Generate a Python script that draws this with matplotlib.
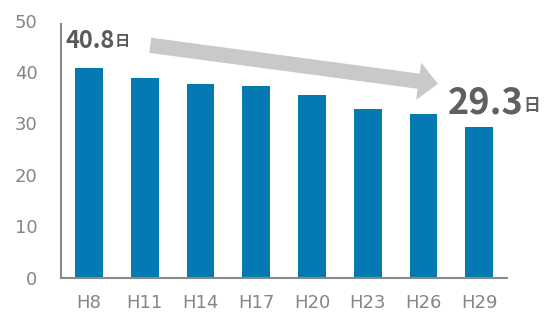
import matplotlib
matplotlib.use('Agg')
import matplotlib.pyplot as plt

# data
years = ['H8', 'H11', 'H14', 'H17', 'H20', 'H23', 'H26', 'H29']
days = [40.8, 38.9, 37.7, 37.3, 35.5, 32.8, 31.9, 29.3]

jp = ['Noto Sans CJK JP', 'DejaVu Sans']

fig = plt.figure(figsize=(5.5, 3.18), dpi=100)
ax = fig.add_axes([0.111, 0.127, 0.811, 0.813])

x = list(range(len(years)))
ax.bar(x, days, width=0.5, color='#0479b2')

ax.set_xlim(-0.5, len(years) - 0.5)
ax.set_ylim(0, 50.3)
ax.set_yticks([0, 10, 20, 30, 40, 50])
ax.set_xticks(x)
ax.set_xticklabels(years)

for side in ['top', 'right']:
    ax.spines[side].set_visible(False)
for side in ['left', 'bottom']:
    ax.spines[side].set_color('#8a8a8a')
    ax.spines[side].set_linewidth(1.5)
ax.spines['left'].set_bounds(0, 49.4)

ax.tick_params(length=0, labelsize=13, labelcolor='#858585')
ax.tick_params(axis='x', pad=12)
ax.tick_params(axis='y', pad=17)

# trend arrow
ax.annotate('', xy=(6.26, 37.7), xytext=(1.1, 45.2),
            arrowprops=dict(arrowstyle='simple,head_width=2.7,head_length=1.4,tail_width=1.1',
                            mutation_scale=10, color='#c9c9c9', ec='none',
                            shrinkA=0, shrinkB=0))

# start / end labels
t1 = ax.text(-0.42, 44.7, f'{days[0]}', fontsize=17, fontweight='bold', family=jp,
             color='#5a5a5a', ha='left', va='baseline')
ax.annotate('日', xy=(1, 0), xycoords=t1, xytext=(0, 2.5), textcoords='offset points',
            fontsize=11, fontweight='bold', family=jp, color='#5a5a5a', ha='left', va='bottom')

t2 = ax.text(6.44, 32.0, f'{days[-1]}', fontsize=26, fontweight='bold', family=jp,
             color='#606060', ha='left', va='baseline')
ax.annotate('日', xy=(1, 0), xycoords=t2, xytext=(0, 4.5), textcoords='offset points',
            fontsize=12, fontweight='bold', family=jp, color='#606060', ha='left', va='bottom')

fig.savefig('out.png', dpi=100)
